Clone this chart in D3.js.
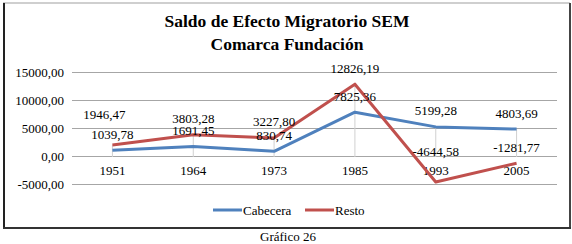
<!DOCTYPE html>
<html>
<head>
<meta charset="utf-8">
<script src="https://cdn.jsdelivr.net/npm/d3@7/dist/d3.min.js"></script>
<style>
  body { margin: 0; background: #fff; }
</style>
</head>
<body>
<div id="chart"></div>
<script>
// data
const years = ['1951', '1964', '1973', '1985', '1993', '2005'];
const cabecera = [1039.78, 1691.45, 830.74, 7825.36, 5199.28, 4803.69];
const resto = [1946.47, 3803.28, 3227.80, 12826.19, -4644.58, -1281.77];
const yTicks = [-5000, 0, 5000, 10000, 15000];

const width = 572, height = 244;
const margin = { top: 72, right: 15, bottom: 60, left: 72 };
const plotW = 557 - margin.left;
const plotH = 184 - margin.top;
const serif = '"Liberation Serif"';

const svg = d3.select('#chart')
    .append('svg')
    .attr('width', width)
    .attr('height', height);

// frame
svg.append('rect')
    .attr('x', 3.5).attr('y', 3)
    .attr('width', 566).attr('height', 224.5)
    .attr('fill', 'none')
    .attr('stroke', '#a0a0a0')
    .attr('stroke-width', 1);
svg.append('line').attr('x1', 4).attr('x2', 4).attr('y1', 3).attr('y2', 228)
    .attr('stroke', '#222').attr('stroke-width', 2);
svg.append('line').attr('x1', 570).attr('x2', 570).attr('y1', 3).attr('y2', 229)
    .attr('stroke', '#444').attr('stroke-width', 2);
svg.append('line').attr('x1', 3).attr('x2', 571).attr('y1', 228).attr('y2', 228)
    .attr('stroke', '#333').attr('stroke-width', 2);

// title
const title = svg.append('text')
    .attr('text-anchor', 'middle')
    .style('font-family', serif)
    .style('font-size', '17.5px')
    .style('font-weight', 'bold');
title.append('tspan').attr('x', 287).attr('y', 27).text('Saldo de Efecto Migratorio SEM');
title.append('tspan').attr('x', 287).attr('y', 50).text('Comarca Fundación');

const g = svg.append('g')
    .attr('transform', `translate(${margin.left},${margin.top})`);

const x = d3.scaleBand().domain(years).range([0, plotW]);
const y = d3.scaleLinear().domain([-5000, 15000]).range([plotH, 0]);
const cx = d => x(d) + x.bandwidth() / 2;
const fmt = v => d3.format('.2f')(v).replace('.', ',').replace('\u2212', '-');

// gridlines + y labels
g.selectAll('.grid')
    .data(yTicks)
    .join('line')
    .attr('class', 'grid')
    .attr('x1', 0).attr('x2', plotW)
    .attr('y1', d => Math.round(y(d)) + 0.5)
    .attr('y2', d => Math.round(y(d)) + 0.5)
    .attr('stroke', '#a6a6a6')
    .attr('stroke-width', 1.2);

g.selectAll('.ylab')
    .data(yTicks)
    .join('text')
    .attr('class', 'ylab')
    .attr('x', -8)
    .attr('y', d => y(d))
    .attr('dy', '0.35em')
    .attr('text-anchor', 'end')
    .style('font-family', serif)
    .style('font-size', '13px')
    .text(fmt);

// drop lines
g.selectAll('.drop')
    .data(years)
    .join('line')
    .attr('class', 'drop')
    .attr('x1', d => cx(d)).attr('x2', d => cx(d))
    .attr('y1', (d, i) => y(Math.max(cabecera[i], resto[i])))
    .attr('y2', y(0) + 1)
    .attr('stroke', '#d0d0d0')
    .attr('stroke-width', 1);

// category labels
g.selectAll('.xlab')
    .data(years)
    .join('text')
    .attr('class', 'xlab')
    .attr('x', d => cx(d))
    .attr('y', y(0) + 14)
    .attr('dy', '0.35em')
    .attr('text-anchor', 'middle')
    .style('font-family', serif)
    .style('font-size', '13px')
    .text(d => d);

const series = [
    { name: 'Cabecera', values: cabecera, color: '#4f81bd' },
    { name: 'Resto', values: resto, color: '#c0504d' }
];

const line = d3.line()
    .x((d, i) => cx(years[i]))
    .y(d => y(d));

series.forEach(s => {
    g.append('path')
        .datum(s.values)
        .attr('fill', 'none')
        .attr('stroke', s.color)
        .attr('stroke-width', 3)
        .attr('stroke-linejoin', 'round')
        .attr('d', line);
});

// data labels, Resto moved up/left when it collides with Cabecera or axis labels
const cabLabelY = cabecera.map(v => y(v) - 16);
const restoShift = resto.map((v, i) => {
    const ly = y(v) - 16;
    return Math.abs(ly - cabLabelY[i]) < 9 || ly > y(0) + 4;
});

g.selectAll('.lab-cab')
    .data(cabecera)
    .join('text')
    .attr('class', 'lab-cab')
    .attr('x', (d, i) => cx(years[i]))
    .attr('y', (d, i) => cabLabelY[i])
    .attr('dy', '0.35em')
    .attr('text-anchor', 'middle')
    .style('font-family', serif)
    .style('font-size', '13px')
    .text(fmt);

g.selectAll('.lab-resto')
    .data(resto)
    .join('text')
    .attr('class', 'lab-resto')
    .attr('x', (d, i) => cx(years[i]) - (restoShift[i] && i === 0 ? 8 : 0))
    .attr('y', (d, i) => y(d) - (restoShift[i] ? 31 : 16))
    .attr('dy', '0.35em')
    .attr('text-anchor', 'middle')
    .style('font-family', serif)
    .style('font-size', '13px')
    .text(fmt);

// legend
const legendX = [213, 305];
const legend = svg.selectAll('.legend')
    .data(series)
    .join('g')
    .attr('class', 'legend')
    .attr('transform', (d, i) => `translate(${legendX[i]},210)`);
legend.append('line')
    .attr('x1', 0).attr('x2', 29)
    .attr('stroke', d => d.color)
    .attr('stroke-width', 3);
legend.append('text')
    .attr('x', 30)
    .attr('dy', '0.35em')
    .style('font-family', serif)
    .style('font-size', '13px')
    .text(d => d.name);

// caption
svg.append('text')
    .attr('x', 288)
    .attr('y', 241)
    .attr('text-anchor', 'middle')
    .style('font-family', serif)
    .style('font-size', '13px')
    .text('Gráfico 26');
</script>
</body>
</html>
